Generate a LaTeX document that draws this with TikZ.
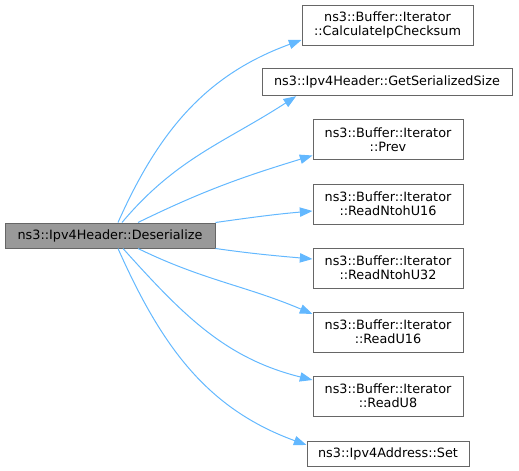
\documentclass[tikz,border=0pt]{standalone}
\usepackage{fontspec}
\setmainfont{DejaVu Sans}
\usepackage{tikz}
\usepackage{xcolor}
\usetikzlibrary{arrows.meta}

\definecolor{edgeblue}{HTML}{63B8FF}
\definecolor{boxline}{HTML}{666666}
\definecolor{rootfill}{HTML}{999999}

\begin{document}
\begin{tikzpicture}[x=0.75pt,y=0.75pt,
  every node/.style={font=\fontsize{9.6pt}{10.7pt}\selectfont},
  fnbox/.style={draw=boxline,fill=white,line width=0.75pt,inner sep=0pt,align=center},
  rootbox/.style={fnbox,fill=rootfill},
  call/.style={draw=edgeblue,line width=0.75pt,-{Triangle[length=9.5pt,width=7pt]}}]
\useasboundingbox (0,0) rectangle (519,-471);
\node[rootbox,minimum width=157.5pt,minimum height=18.75pt] (deser) at (110,-235.5) {ns3::Ipv4Header::Deserialize};
\node[fnbox,minimum width=128.25pt,minimum height=30pt] (cksum) at (387.5,-25) {ns3::Buffer::Iterator\\::CalculateIpChecksum};
\node[fnbox,minimum width=187.5pt,minimum height=20.5pt] (sersize) at (387,-82) {ns3::Ipv4Header::GetSerializedSize};
\node[fnbox,minimum width=112.5pt,minimum height=30pt] (prev) at (388,-139.5) {ns3::Buffer::Iterator\\::Prev};
\node[fnbox,minimum width=112.5pt,minimum height=30pt] (ntoh16) at (388,-204) {ns3::Buffer::Iterator\\::ReadNtohU16};
\node[fnbox,minimum width=112.5pt,minimum height=30pt] (ntoh32) at (388,-268) {ns3::Buffer::Iterator\\::ReadNtohU32};
\node[fnbox,minimum width=112.5pt,minimum height=30pt] (readu16) at (388,-332) {ns3::Buffer::Iterator\\::ReadU16};
\node[fnbox,minimum width=112.5pt,minimum height=30pt] (readu8) at (388,-396) {ns3::Buffer::Iterator\\::ReadU8};
\node[fnbox,minimum width=121.5pt,minimum height=18.75pt] (addrset) at (388,-453.5) {ns3::Ipv4Address::Set};
\draw[call] ([xshift=6pt]deser.north) to[out=66,in=200] ([yshift=-11.25pt]cksum.west);
\draw[call] ([xshift=9pt]deser.north) to[out=50,in=213] ([xshift=26pt]sersize.south west);
\draw[call] ([xshift=21pt]deser.north) to[out=26,in=197] ([yshift=-12pt]prev.west);
\draw[call] (deser.north east) to[out=8,in=185] ([yshift=-5.25pt]ntoh16.west);
\draw[call] (deser.south east) to[out=-8,in=175] ([yshift=6.75pt]ntoh32.west);
\draw[call] ([xshift=21pt]deser.south) to[out=-26,in=157] ([yshift=13.5pt]readu16.west);
\draw[call] ([xshift=9.75pt]deser.south) to[out=-48,in=166] ([yshift=12pt]readu8.west);
\draw[call] ([xshift=6pt]deser.south) to[out=-66,in=160] ([yshift=6.4pt]addrset.west);
\end{tikzpicture}
\end{document}
